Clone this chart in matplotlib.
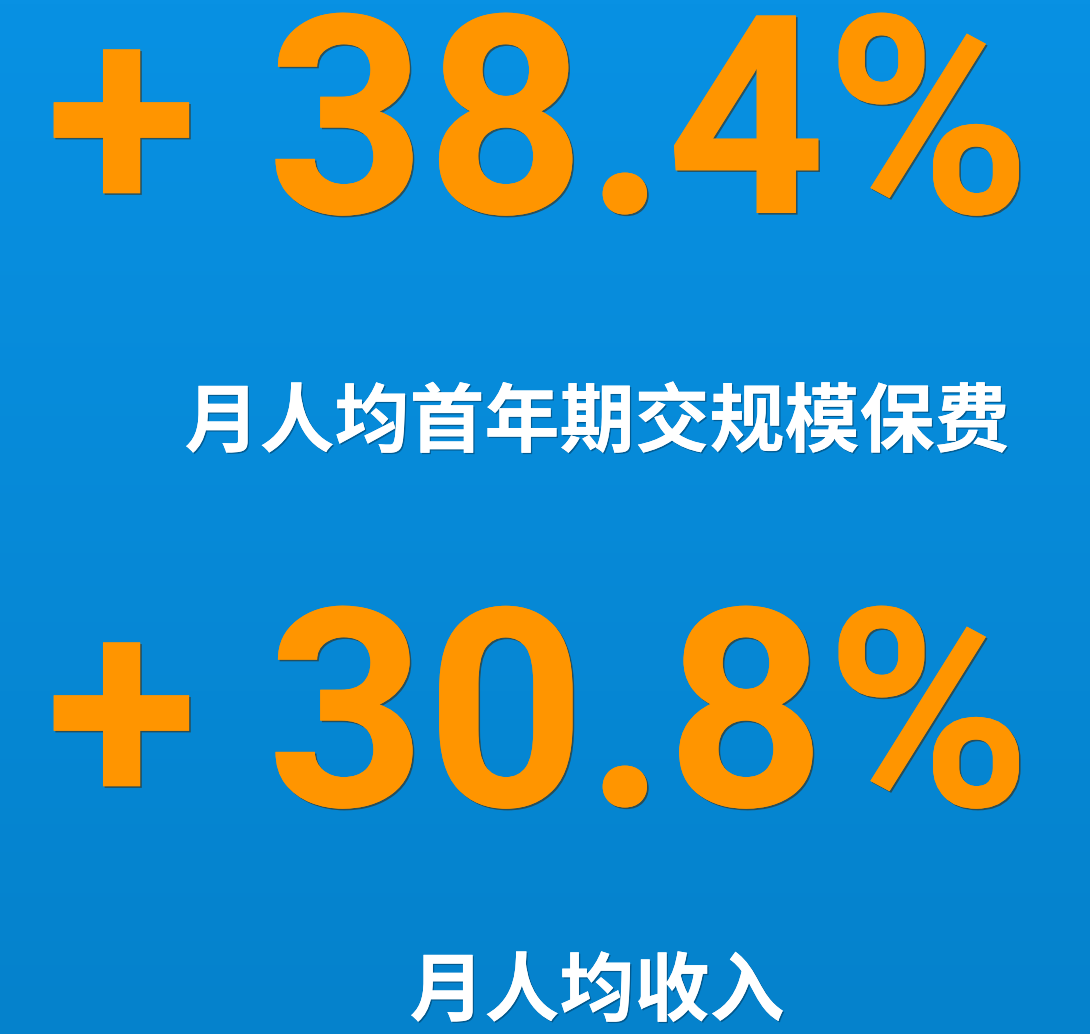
import numpy as np
import matplotlib
matplotlib.use("Agg")
import matplotlib.pyplot as plt
import matplotlib.patheffects as pe
from matplotlib.colors import LinearSegmentedColormap

values = [38.4, 30.8]
labels = ["月人均首年期交规模保费", "月人均收入"]

W, H = 1090, 1034
fig = plt.figure(figsize=(W / 100, H / 100), dpi=100)
ax = fig.add_axes([0, 0, 1, 1])
ax.set_xlim(0, W)
ax.set_ylim(H, 0)
ax.axis("off")

cmap = LinearSegmentedColormap.from_list("bg", ["#0891e3", "#0582cc"])
grad = np.linspace(0, 1, 256).reshape(-1, 1)
ax.imshow(grad, cmap=cmap, extent=[0, W, H, 0], aspect="auto", zorder=0)

num_fx = [pe.withSimplePatchShadow(offset=(1.2, -1.2), shadow_rgbFace="#3a2a10", alpha=0.6), pe.Normal()]
lab_fx = [pe.withSimplePatchShadow(offset=(1, -1), shadow_rgbFace="#003050", alpha=0.5), pe.Normal()]

num_baselines = [213, 806]
lab_centers = [424, 993]
for v, lab, yb, yc in zip(values, labels, num_baselines, lab_centers):
    ax.text(46, yb, f"+ {v:.1f}%", fontsize=200, fontfamily="Roboto",
            fontweight="bold", color="#ff9500", ha="left", va="baseline",
            path_effects=num_fx, zorder=2)
    ax.text(597, yc, lab, fontsize=54, fontfamily=["Noto Sans CJK SC", "DejaVu Sans"],
            fontweight="bold", color="white", ha="center", va="center",
            path_effects=lab_fx, zorder=2)

fig.savefig("out.png", dpi=100)
